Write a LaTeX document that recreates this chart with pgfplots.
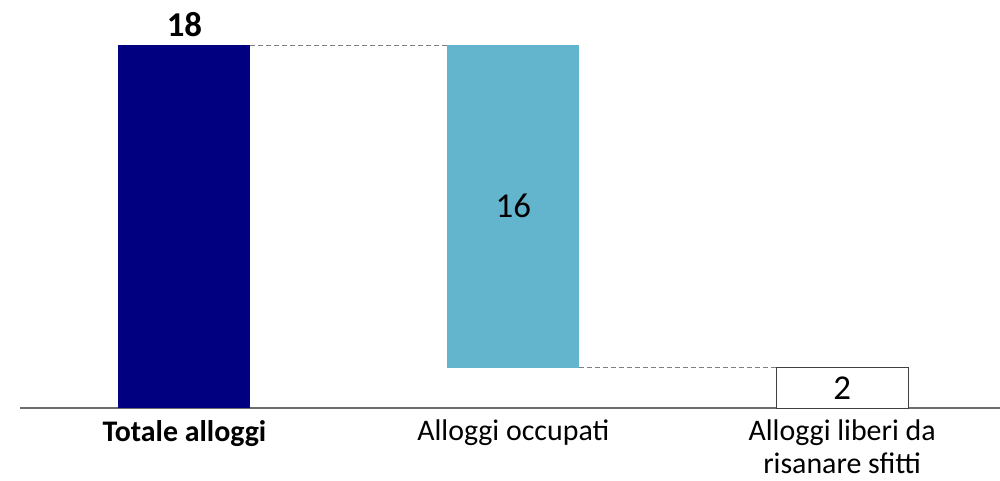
\documentclass[border=0pt]{standalone}
\usepackage{fontspec}
\setmainfont{Carlito}
\usepackage{pgfplots}
\pgfplotsset{compat=1.18}
\definecolor{navybar}{HTML}{000080}
\definecolor{lightbar}{HTML}{63B4CD}
\newcommand{\lblfont}{\fontsize{15}{16.5}\selectfont}
\newcommand{\numfont}{\fontsize{17.5}{19}\selectfont}
\begin{document}
\begin{tikzpicture}[font=\lblfont]
\useasboundingbox (-10bp,-36.5bp) rectangle (490bp,204bp);
\pgfplotsset{every axis/.append style={
  width=490bp, height=181.5bp, scale only axis,
  xmin=-0.5, xmax=2.48, ymin=0, ymax=18, clip=false}}
% bars (waterfall via stacking with an invisible base)
\begin{axis}[ybar stacked, bar width=66bp,
  axis x line*=bottom, axis y line=none,
  axis line style={-, draw=gray!85!black, line width=0.6pt},
  xtick={0,1,2},
  xticklabels={\textbf{Totale alloggi},Alloggi occupati,{Alloggi liberi da\\risanare sfitti}},
  xticklabel style={align=center, anchor=north, yshift=-2.5bp, font=\lblfont},
  major tick length=0pt]
\addplot[fill=white, draw=black!75, line width=0.4pt] coordinates {(0,0) (1,0) (2,2)};
\addplot[fill=navybar, draw=none] coordinates {(0,18) (1,0) (2,0)};
\addplot[fill=none, draw=none] coordinates {(0,0) (1,2) (2,0)};
\addplot[fill=lightbar, draw=none] coordinates {(0,0) (1,16) (2,0)};
\end{axis}
% connectors and value labels
\begin{axis}[hide axis]
\addplot[gray, line width=0.5pt, dash pattern=on 2.5bp off 1.5bp] coordinates {(0.2,18) (0.8,18)};
\addplot[gray, line width=0.5pt, dash pattern=on 2.5bp off 1.5bp] coordinates {(1.2,2) (1.8,2)};
\addplot[draw=none, mark=none, point meta=explicit symbolic, nodes near coords,
  nodes near coords style={anchor=south, font=\numfont\bfseries, inner sep=4bp}] coordinates {(0,18) [18]};
\addplot[draw=none, mark=none, point meta=explicit symbolic, nodes near coords,
  nodes near coords style={anchor=center, font=\numfont}] coordinates {(1,10) [16] (2,1) [2]};
\end{axis}
\end{tikzpicture}
\end{document}
